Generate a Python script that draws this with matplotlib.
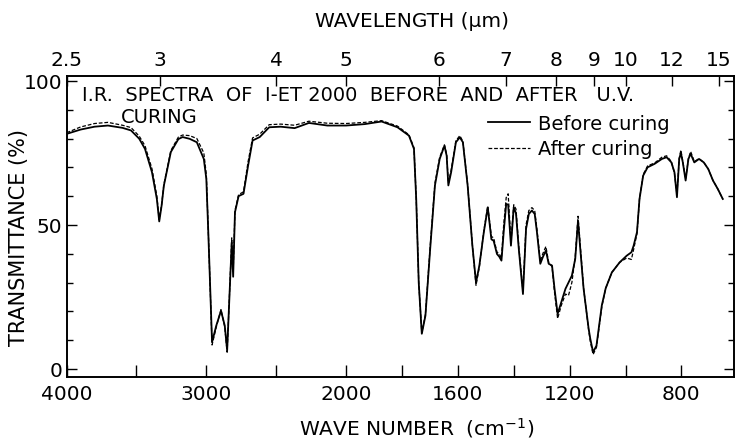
import numpy as np
import matplotlib
matplotlib.use("Agg")
from matplotlib import pyplot as plt
from matplotlib.ticker import FixedLocator, FixedFormatter, NullFormatter

# spectrum (wavenumber in cm-1, transmittance in %)
wavenumber = [4000, 3900, 3800, 3704, 3600, 3539, 3480, 3439, 3389, 3354, 3337, 3320,
              3304, 3254, 3200, 3170, 3120, 3068, 3018, 3000, 2986, 2959, 2929, 2895,
              2868, 2851, 2828, 2818, 2808, 2795, 2769, 2734, 2701, 2669, 2618, 2550,
              2468, 2368, 2266, 2134, 2000, 1933, 1873, 1816, 1775, 1757, 1749, 1740,
              1729, 1716, 1699, 1682, 1665, 1648, 1640, 1634, 1624, 1607, 1593, 1582,
              1565, 1548, 1535, 1523, 1507, 1493, 1480, 1472, 1460, 1452, 1444, 1436,
              1427, 1420, 1410, 1400, 1392, 1382, 1367, 1356, 1346, 1335, 1325, 1317,
              1305, 1296, 1285, 1275, 1263, 1254, 1243, 1230, 1215, 1204, 1192, 1180,
              1170, 1162, 1150, 1132, 1126, 1116, 1104, 1085, 1071, 1049,
              1021, 996, 979, 971, 959, 950, 937, 921, 896, 870, 853, 836,
              825, 816, 808, 802, 795, 785, 775, 767, 754, 737, 720, 704,
              687, 670, 652]
before = [81.6, 83.1, 84.1, 84.5, 83.7, 82.8, 79.9, 76.4, 68.3, 59.0, 51.2, 56.7,
          63.6, 75.3, 79.8, 80.5, 79.9, 78.7, 72.9, 66.0, 47.5, 9.3, 15.0, 20.2,
          15.0, 6.4, 32.4, 44.0, 32.0, 54.4, 60.0, 60.8, 70.6, 79.3, 80.5, 83.9,
          84.1, 83.6, 85.4, 84.5, 84.5, 85.0, 85.9, 83.9, 81.0, 76.4, 59.0, 30.0,
          12.2, 18.5, 41.7, 63.7, 72.9, 77.5, 74.0, 63.7, 68.3, 78.7, 80.4, 78.7,
          63.7, 42.8, 30.0, 35.9, 47.5, 56.1, 45.0, 44.5, 39.9, 39.0, 37.6, 47.5,
          57.3, 57.0, 42.8, 56.1, 54.0, 41.7, 26.0, 48.6, 53.8, 55.0, 53.8, 47.5,
          36.5, 38.8, 41.1, 36.5, 35.9, 27.8, 19.1, 23.1, 27.8, 30.0, 32.4, 38.2,
          51.5, 41.7, 27.8, 13.9, 10.4, 5.8, 8.1, 22.0, 28.0, 33.5,
          37.0, 39.3, 40.5, 42.8, 47.5, 59.0, 67.1, 70.0, 71.2, 72.9, 73.5, 71.7,
          68.3, 59.6, 72.9, 75.0, 71.7, 65.4, 72.9, 74.7, 71.7, 72.9, 71.7, 69.4,
          65.4, 62.5, 59.0]
after = [82.0, 84.0, 85.2, 85.6, 84.6, 83.8, 80.8, 77.5, 69.5, 60.0, 51.8, 57.0,
         64.0, 75.8, 80.5, 81.2, 81.0, 80.0, 75.0, 67.5, 48.0, 8.3, 14.5, 20.6,
         14.5, 5.8, 33.0, 45.5, 33.5, 55.0, 60.5, 61.5, 72.0, 80.2, 81.5, 84.8,
         85.0, 84.6, 86.0, 85.3, 85.2, 85.6, 86.2, 84.3, 81.3, 76.8, 59.5, 30.0,
         12.5, 19.0, 42.5, 64.5, 73.5, 77.8, 74.5, 64.5, 69.0, 79.2, 81.0, 79.0,
         64.0, 43.0, 29.0, 35.5, 48.0, 56.5, 46.0, 45.5, 40.5, 40.0, 38.5, 50.0,
         59.5, 60.8, 44.0, 57.0, 55.5, 42.5, 27.0, 50.0, 55.0, 56.0, 55.0, 48.5,
         37.5, 40.0, 42.5, 37.0, 35.5, 26.5, 17.5, 22.0, 26.0, 25.5, 30.0, 39.0,
         53.0, 43.0, 28.0, 13.5, 9.5, 5.0, 7.5, 21.5, 28.0, 33.5,
         37.0, 38.5, 38.0, 41.5, 47.0, 59.0, 67.5, 70.5, 71.5, 73.5, 74.0, 72.0,
         68.0, 60.5, 73.0, 76.0, 72.0, 66.0, 73.0, 75.5, 72.0, 73.0, 71.7, 69.4,
         65.4, 62.5, 59.0]

bottom_ticks = [4000, 3000, 2000, 1600, 1200, 800]
bottom_minor = [3500, 2500, 1800, 1400, 1000]
wavelength_ticks = [2.5, 3, 4, 5, 6, 7, 8, 9, 10, 12, 15]
wavelength_labels = ['2.5', '3', '4', '5', '6', '7', '8', '9', '10', '12', '15']


# IR chart paper: scale doubles below 2000 cm-1
def fwd(w):
    w = np.asarray(w, dtype=float)
    return np.where(w <= 2000, 2 * w, w + 2000)


def inv(u):
    u = np.asarray(u, dtype=float)
    return np.where(u <= 4000, u / 2, u - 2000)


fig = plt.figure(figsize=(7.35, 4.39), dpi=100)
ax = fig.add_axes([0.0906, 0.139, 0.908, 0.6856])
ax.set_xscale('function', functions=(fwd, inv))
ax.set_xlim(4000, 612)
ax.set_ylim(-2.8, 101.7)

ax.plot(wavenumber, before, color='black', lw=1.3, label='Before curing')
ax.plot(wavenumber, after, color='black', lw=0.9, ls=(0, (3, 1.5)), label='After curing')

for s in ax.spines.values():
    s.set_linewidth(1.2)

ax.xaxis.set_major_locator(FixedLocator(bottom_ticks))
ax.xaxis.set_minor_locator(FixedLocator(bottom_minor))
ax.xaxis.set_major_formatter(FixedFormatter([str(t) for t in bottom_ticks]))
ax.xaxis.set_minor_formatter(NullFormatter())
ax.tick_params(axis='x', which='both', direction='in', length=9, width=1, labelsize=14.5, pad=5)

ax.yaxis.set_major_locator(FixedLocator([0, 50, 100]))
ax.yaxis.set_minor_locator(FixedLocator([10, 20, 30, 40, 60, 70, 80, 90]))
ax.tick_params(axis='y', which='major', direction='in', length=7, width=1,
               left=True, right=True, labelsize=14.5, pad=3)
ax.tick_params(axis='y', which='minor', direction='in', length=4, width=1,
               left=True, right=True)

# wavelength scale on top
ax2 = ax.twiny()
ax2.set_xscale('function', functions=(fwd, inv))
ax2.set_xlim(ax.get_xlim())
ax2.xaxis.set_major_locator(FixedLocator([1e4 / l for l in wavelength_ticks]))
ax2.xaxis.set_major_formatter(FixedFormatter(wavelength_labels))
ax2.xaxis.set_minor_locator(FixedLocator([]))
ax2.tick_params(axis='x', direction='in', length=7, width=1, labelsize=14.5, pad=5)
for s in ax2.spines.values():
    s.set_linewidth(1.2)

ax.text(0.023, 0.940, 'I.R.  SPECTRA  OF  I-ET 2000  BEFORE  AND  AFTER   U.V.',
        transform=ax.transAxes, fontsize=14, va='center', ha='left')
ax.text(0.0816, 0.867, 'CURING', transform=ax.transAxes, fontsize=14, va='center', ha='left')

ax.legend(loc='upper left', bbox_to_anchor=(0.631, 0.875), frameon=False, fontsize=14,
          handlelength=2.2, handletextpad=0.4, labelspacing=0.35, borderpad=0, borderaxespad=0)

fig.text(0.5605, 0.95, 'WAVELENGTH (\u03bcm)', fontsize=14.5, ha='center', va='center')
fig.text(0.567, 0.025, 'WAVE NUMBER  (cm$^{-1}$)', fontsize=14.5, ha='center', va='center')
fig.text(0.026, 0.46, 'TRANSMITTANCE (%)', fontsize=15, rotation=90, ha='center', va='center')

fig.savefig('out.png', dpi=100)
